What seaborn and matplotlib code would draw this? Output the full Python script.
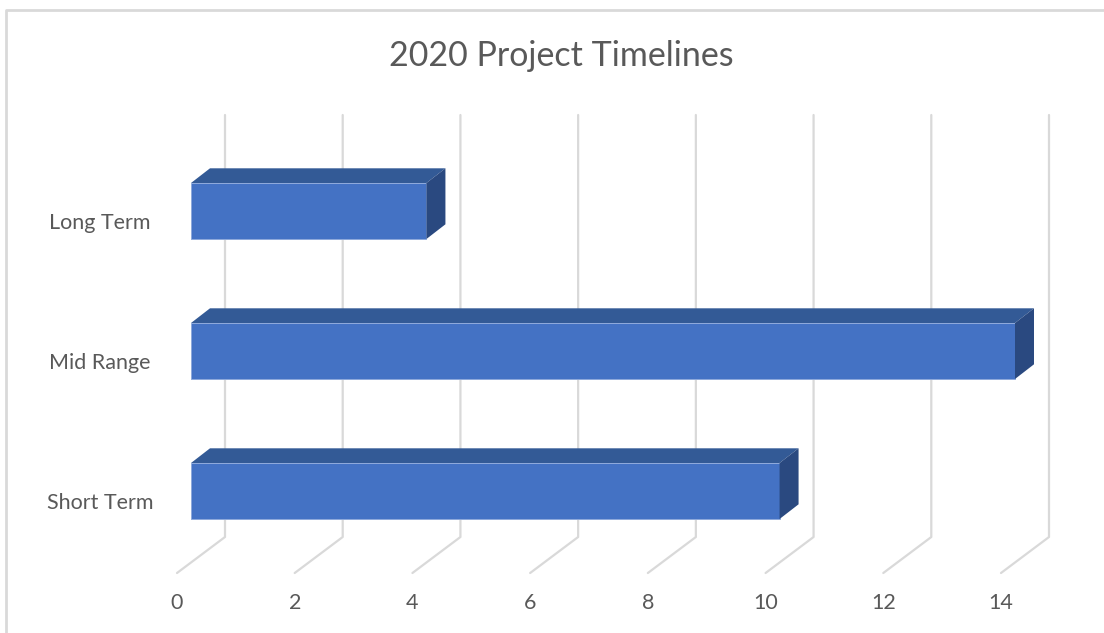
import numpy as np
import matplotlib
matplotlib.use("Agg")
import matplotlib.pyplot as plt
import seaborn as sns
from matplotlib.patches import Polygon
from matplotlib.lines import Line2D
from matplotlib.transforms import offset_copy

# data
terms = ["Long Term", "Mid Range", "Short Term"]
months = [4, 14, 10]
xticks = [0, 2, 4, 6, 8, 10, 12, 14]
title = "2020 Project Timelines"

# colours
front_c = "#4472C4"
top_c = "#335A96"
side_c = "#2A4980"
grid_c = "#D9D9D9"
text_c = "#595959"

W, H = 1104, 633
sns.set_theme(style="white")
plt.rcParams["font.family"] = ["Lato", "DejaVu Sans"]

fig = plt.figure(figsize=(W / 100, H / 100), dpi=100)
# axes = the front plane of the fake 3d box (pixels 177..1001 wide, 141..561 high)
ax = fig.add_axes([177 / W, (H - 561) / H, 824 / W, 420 / H])

sns.barplot(x=months, y=terms, orient="h", color=front_c, saturation=1,
            width=0.4, ax=ax, zorder=3)
ax.set_xlim(0, 14)
ax.set_ylim(2.5, -0.5)
ax.axis("off")

# depth of the floor and of the bars, in pixels
floor_dx, floor_dy = 48, 36
bar_off = 14
bar_dx, bar_dy = 19, 14.7
y_front = H - 573   # front edge of floor
y_back = H - 537    # back edge of floor
y_top = H - 115     # top of back wall

# floor / back wall gridlines
for k in xticks:
    xf = ax.transData.transform((k, 0))[0]
    fig.add_artist(Line2D([xf, xf + floor_dx, xf + floor_dx],
                          [y_front, y_back, y_top], transform=None,
                          color=grid_c, lw=1.6, zorder=0))
    fig.text(xf / W, (H - 603) / H, str(k), ha="center", va="center",
             fontsize=15.5, color=text_c)

# shift the bars to their depth and add top and side faces
shift = offset_copy(ax.transData, fig=fig, x=bar_off / 100, y=0, units="inches")
for p in ax.patches:
    p.set_transform(shift)
    p.set_clip_on(False)
    p.set_edgecolor("#8EA9DB")
    p.set_linewidth(0.7)
    x0, y0 = p.get_x(), p.get_y()
    w, h = p.get_width(), p.get_height()
    (lx, ty), (rx, by) = ax.transData.transform([(x0, y0), (x0 + w, y0 + h)])
    lx += bar_off
    rx += bar_off
    top = Polygon([(lx, ty), (rx, ty), (rx + bar_dx, ty + bar_dy),
                   (lx + bar_dx, ty + bar_dy)], closed=True, transform=None,
                  facecolor=top_c, edgecolor="none", zorder=3)
    side = Polygon([(rx, ty), (rx + bar_dx, ty + bar_dy),
                    (rx + bar_dx, by + bar_dy), (rx, by)], closed=True,
                   transform=None, facecolor=side_c, edgecolor="none", zorder=3)
    fig.add_artist(top)
    fig.add_artist(side)

# category labels
for i, t in enumerate(terms):
    yc = ax.transData.transform((0, i))[1] - 12
    fig.text(100 / W, yc / H, t, ha="center", va="center",
             fontsize=15.5, color=text_c)

fig.text(561 / W, (H - 56) / H, title, ha="center", va="center",
         fontsize=24.5, color=text_c)

# chart frame (only the left and top edges are visible)
fig.add_artist(Line2D([6, 6, W + 5], [-5, H - 9.5, H - 9.5], transform=None,
                      color=grid_c, lw=2))

fig.savefig("out.png", dpi=100)
